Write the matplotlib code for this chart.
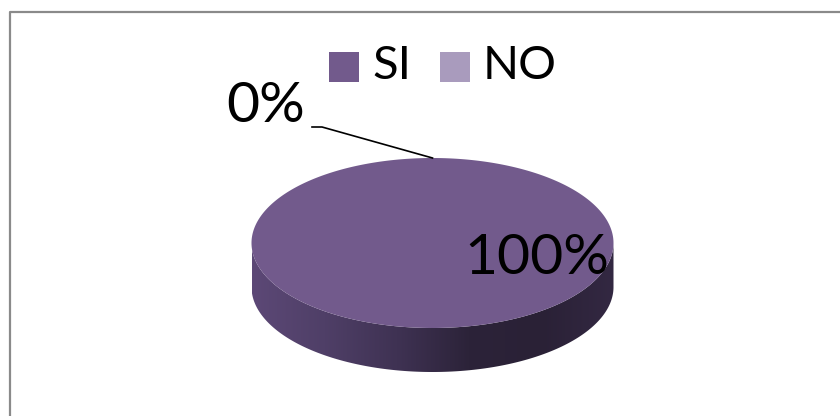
import numpy as np
import matplotlib
matplotlib.use("Agg")
import matplotlib.pyplot as plt
from matplotlib.patches import Polygon, Rectangle
from matplotlib.colors import LinearSegmentedColormap

# Survey answers
categories = ["SI", "NO"]
values = [100, 0]
slice_labels = ["100%", "0%"]
colors = ["#725a8c", "#a99bbd"]

W, H = 840, 416
fig = plt.figure(figsize=(W / 100, H / 100), dpi=100)
ax = fig.add_axes([0, 0, 1, 1])
ax.set_xlim(0, W)
ax.set_ylim(H, 0)
ax.axis("off")

FONT = ["Lato", "DejaVu Sans"]

# chart frame
ax.plot([9.5, 9.5, W], [H, 11.5, 11.5], color="#8a8a8a", lw=1.6, solid_capstyle="butt")

# pie geometry (pixel space, tilted disc)
cx, cy = 432.5, 243.0
a, b = 181.0, 85.0
depth = 44.0

total = float(sum(values))
fracs = [v / total for v in values]
start = 90.0  # first slice starts at 12 o'clock, running clockwise


def ell(theta_deg, dy=0.0):
    t = np.radians(theta_deg)
    return cx + a * np.cos(t), cy - b * np.sin(t) + dy


# side wall (front half), filled with a horizontal gradient
t = np.linspace(180, 360, 300)
xt, yt = ell(t)
xb, yb = ell(t, depth)
side = np.column_stack([np.r_[xt, xb[::-1]], np.r_[yt, yb[::-1]]])
side_path = Polygon(side, closed=True, facecolor="none", edgecolor="none")
ax.add_patch(side_path)
cmap = LinearSegmentedColormap.from_list(
    "side", ["#5c4876", "#4f3f67", "#3f3253", "#2c2339", "#2a2136", "#332842"])
grad = np.linspace(0, 1, 256)[None, :]
im = ax.imshow(grad, cmap=cmap, aspect="auto",
               extent=[cx - a, cx + a, cy + b + depth + 2, cy - 5],
               interpolation="bilinear", zorder=1)
im.set_clip_path(side_path)

# top face slices, angles taken from the data
ang = start
for frac, col in zip(fracs, colors):
    sweep = 360.0 * frac
    if sweep <= 0:
        continue
    if sweep >= 359.999:
        tt = np.linspace(0, 360, 400)
        x, y = ell(tt)
        pts = np.column_stack([x, y])
    else:
        tt = np.linspace(ang, ang - sweep, 200)
        x, y = ell(tt)
        pts = np.column_stack([np.r_[cx, x], np.r_[cy, y]])
    ax.add_patch(Polygon(pts, closed=True, facecolor=col, edgecolor="none", zorder=2))
    ang -= sweep

# data labels
ax.text(537, 259, slice_labels[0], fontsize=41, family=FONT,
        ha="center", va="center", color="black", zorder=4)
ax.text(266, 107, slice_labels[1], fontsize=41, family=FONT,
        ha="center", va="center", color="black", zorder=4)
# leader line for the empty slice
lx, ly = ell(start)
ax.plot([312, 322, lx], [127, 127, ly], color="black", lw=1.2, zorder=4)

# legend
for i, (cat, col) in enumerate(zip(categories, colors)):
    x0 = 329 + i * 111
    ax.add_patch(Rectangle((x0, 52), 30, 30, facecolor=col, edgecolor="none", zorder=3))
    ax.text(x0 + 43, 66, cat, fontsize=34, family=FONT,
            ha="left", va="center", color="black", zorder=3)

fig.savefig("out.png", dpi=100)
